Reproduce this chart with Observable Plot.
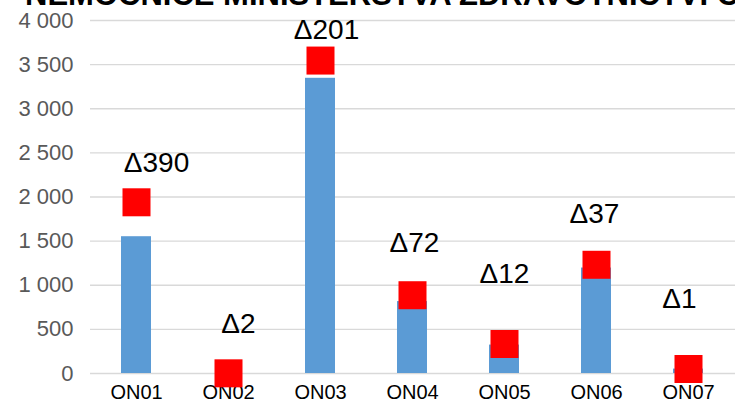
<!DOCTYPE html>
<html>
<head>
<meta charset="utf-8">
<script src="https://cdn.jsdelivr.net/npm/d3@7"></script>
<script src="https://cdn.jsdelivr.net/npm/@observablehq/plot@0.6"></script>
<style>
  html, body { margin: 0; padding: 0; background: #fff; overflow: hidden; }
  #wrap { position: relative; width: 735px; height: 402px; overflow: hidden; }
  #title { position: absolute; left: 25px; top: -20px; white-space: nowrap;
    font-family: "Liberation Sans", Arial, sans-serif; font-weight: bold; font-size: 31px; color: #000; line-height: 30px; }
  #chart { position: absolute; left: 0; top: 0; }
</style>
</head>
<body>
<div id="wrap">
  <div id="chart"></div>
  <div id="title">NEMOCNICE MINISTERSTVA ZDRAVOTNICTVÍ ČR</div>
</div>
<script>
const categories = ["ON01", "ON02", "ON03", "ON04", "ON05", "ON06", "ON07"];
const barValues = [1550, 0, 3345, 815, 322, 1195, 50];
const markerValues = [1940, 2, 3546, 887, 334, 1232, 51];
const deltas = [390, 2, 201, 72, 12, 37, 1];
const labelAt = [2382, 564, 3888, 1481, 1125, 1805, 841];
const yTicks = [0, 500, 1000, 1500, 2000, 2500, 3000, 3500, 4000];

// horizontal nudge of each data label (as placed in the original chart)
const labelNudge = [20, 10, 6, 2, 0, -2, -9];

const rows = categories.map((c, i) => ({
  cat: c, bar: barValues[i], marker: markerValues[i],
  label: "\u0394" + deltas[i], labelY: labelAt[i]
}));

const fmt = d3.formatLocale({thousands: "\u00a0", grouping: [3], decimal: ","}).format(",d");

const chart = Plot.plot({
  width: 735,
  height: 402,
  marginTop: 20,
  marginBottom: 29,
  marginLeft: 90,
  marginRight: 0,
  style: {fontFamily: "Liberation Sans, Arial, sans-serif", background: "transparent", overflow: "visible"},
  x: {domain: categories, paddingInner: 0.67, paddingOuter: 0.335, label: null},
  y: {domain: [0, 4000], label: null},
  marks: [
    Plot.ruleY(yTicks, {stroke: "#d9d9d9", strokeWidth: 1.4}),
    Plot.axisY({ticks: yTicks, tickFormat: fmt, tickSize: 0, tickPadding: 17, fontSize: 22, fill: "#595959", label: null}),
    Plot.axisX({tickSize: 0, tickPadding: 11, fontSize: 20, fill: "#000", label: null}),
    Plot.barY(rows, {x: "cat", y: "bar", fill: "#5B9BD5"}),
    Plot.dot(rows, {x: "cat", y: "marker", symbol: "square", r: 15.8, fill: "#FF0000", stroke: "none"}),
    ...rows.map((r, i) => Plot.text([r], {x: "cat", y: "labelY", text: "label", fontSize: 28, fill: "#000", dx: labelNudge[i]}))
  ]
});
document.getElementById("chart").appendChild(chart);
</script>
</body>
</html>
